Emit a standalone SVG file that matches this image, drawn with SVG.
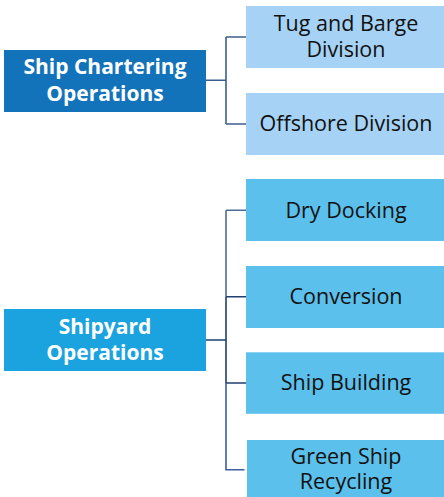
<svg xmlns="http://www.w3.org/2000/svg" width="444" height="497" viewBox="0 0 444 497">
  <style>
    .parent-text { font-family: "Open Sans", "Liberation Sans", sans-serif; font-weight: 700; font-size: 21px; fill: #ffffff; text-anchor: middle; }
    .child-text { font-family: "Open Sans", "Liberation Sans", sans-serif; font-weight: 400; font-size: 21.5px; fill: #111111; text-anchor: middle; }
    .charter-parent { fill: #1373BA; }
    .charter-child { fill: #A6D3F5; }
    .yard-parent { fill: #1BA3DF; }
    .yard-child { fill: #5BC0EB; }
    .link { fill: none; stroke-width: 1.6; }
  </style>

  <!-- connectors -->
  <g id="connectors">
    <path class="link" stroke="#3B5F8C" d="M206 80.3 H226 M226 37 V124 M226 37 H246 M226 124 H246"/>
    <path class="link" stroke="#4B6F96" d="M226 210.3 V296.7 M226 210.3 H246"/>
    <path class="link" stroke="#1F3F6E" d="M206 340 H226 M226 296.7 V383 M226 296.7 H246 M226 383 H246"/>
    <path class="link" stroke="#3C5EA5" stroke-width="2" d="M226 383 V469.7 H244.5"/>
  </g>

  <!-- Ship Chartering branch -->
  <g id="ship-chartering">
    <rect class="charter-parent" x="4" y="50" width="202" height="62"/>
    <text class="parent-text" x="105" y="74">Ship Chartering</text>
    <text class="parent-text" x="105" y="100.5">Operations</text>
  </g>
  <g id="tug-barge">
    <rect class="charter-child" x="246" y="6" width="198" height="62"/>
    <text class="child-text" x="346" y="31">Tug and Barge</text>
    <text class="child-text" x="346" y="56.5">Division</text>
  </g>
  <g id="offshore">
    <rect class="charter-child" x="246" y="93" width="198" height="62"/>
    <text class="child-text" x="346" y="130.5">Offshore Division</text>
  </g>

  <!-- Shipyard branch -->
  <g id="shipyard">
    <rect class="yard-parent" x="4" y="309" width="202" height="62"/>
    <text class="parent-text" x="105" y="333.5">Shipyard</text>
    <text class="parent-text" x="105" y="359.5">Operations</text>
  </g>
  <g id="dry-docking">
    <rect class="yard-child" x="246" y="179" width="198" height="62"/>
    <text class="child-text" x="346" y="217.5">Dry Docking</text>
  </g>
  <g id="conversion">
    <rect class="yard-child" x="246" y="266" width="198" height="62"/>
    <text class="child-text" x="346" y="303.5">Conversion</text>
  </g>
  <g id="ship-building">
    <rect class="yard-child" x="246" y="352.3" width="198" height="61.5"/>
    <text class="child-text" x="346" y="390">Ship Building</text>
  </g>
  <g id="green-recycling">
    <rect class="yard-child" x="247" y="440" width="197" height="57"/>
    <text class="child-text" x="346" y="463.5">Green Ship</text>
    <text class="child-text" x="346" y="489">Recycling</text>
  </g>
</svg>
